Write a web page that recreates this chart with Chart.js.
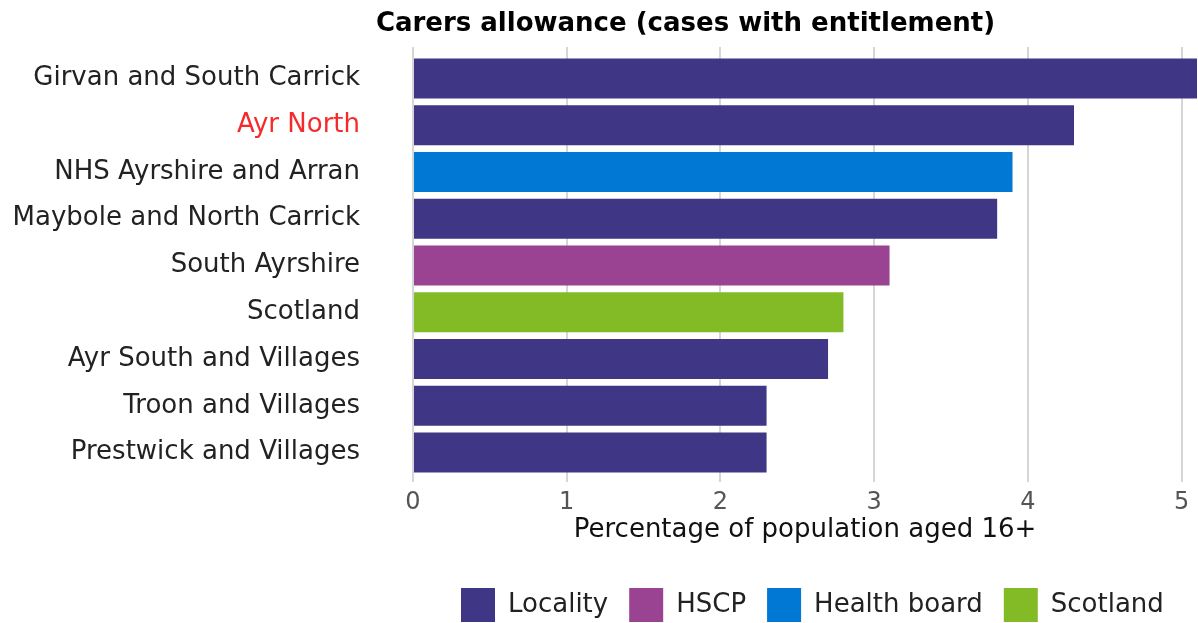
<!DOCTYPE html>
<html>
<head>
<meta charset="utf-8">
<script src="https://cdn.jsdelivr.net/npm/chart.js@4/dist/chart.umd.min.js"></script>
<style>
  html, body { margin: 0; padding: 0; background: #ffffff; }
  #wrap { width: 1198px; height: 623px; position: relative; }
</style>
</head>
<body>
<div id="wrap"><canvas id="c" width="1198" height="623"></canvas></div>
<script>
// ---- Data ----
const chartTitle = 'Carers allowance (cases with entitlement)';
const axisTitle = 'Percentage of population aged 16+';
const categories = [
  'Girvan and South Carrick',
  'Ayr North',
  'NHS Ayrshire and Arran',
  'Maybole and North Carrick',
  'South Ayrshire',
  'Scotland',
  'Ayr South and Villages',
  'Troon and Villages',
  'Prestwick and Villages'
];
const values = [5.1, 4.3, 3.9, 3.8, 3.1, 2.8, 2.7, 2.3, 2.3];
const areaTypes = ['Locality', 'Locality', 'Health board', 'Locality', 'HSCP', 'Scotland', 'Locality', 'Locality', 'Locality'];
const legendOrder = ['Locality', 'HSCP', 'Health board', 'Scotland'];
const xTicks = [0, 1, 2, 3, 4, 5];
const highlighted = 'Ayr North';

// ---- Styles ----
const typeColors = {
  'Locality': '#3f3685',
  'HSCP': '#9b4393',
  'Health board': '#0078d4',
  'Scotland': '#83bb26'
};
Chart.defaults.font.family = "'DejaVu Sans', sans-serif";

const datasets = legendOrder.map(t => ({
  label: t,
  data: categories.map((c, i) => areaTypes[i] === t ? values[i] : null),
  backgroundColor: typeColors[t],
  borderWidth: 0,
  barPercentage: 0.855,
  categoryPercentage: 1.0,
  grouped: false
}));

const setTicks = (scale) => {
  scale.ticks = xTicks.map(v => ({ value: v }));
};

const placeBlocks = {
  id: 'placeBlocks',
  beforeLayout(chart) {
    const lg = chart.legend;
    if (lg && !lg.__patched) {
      const origFit = lg.fit;
      lg.fit = function () { origFit.call(this); this.height = 72; };
      lg.__patched = true;
    }
  },
  afterLayout(chart) {
    const t = chart.titleBlock;
    if (t) { t.left += 87; t.right += 87; }
    const lg = chart.legend;
    if (lg) {
      const h = lg.bottom - lg.top;
      lg.left = 440; lg.right = 1198;
      lg.top = 567; lg.bottom = 567 + h;
    }
  }
};

new Chart(document.getElementById('c'), {
  type: 'bar',
  data: { labels: categories, datasets },
  plugins: [placeBlocks],
  options: {
    indexAxis: 'y',
    responsive: false,
    animation: false,
    layout: { padding: { left: 0, right: 1, top: 0, bottom: 0 } },
    scales: {
      x: {
        type: 'linear',
        position: 'bottom',
        min: 0,
        max: 5.1,
        afterBuildTicks: setTicks,
        afterFit: (s) => { s.height = 75; },
        ticks: { color: '#555555', font: { size: 24 }, padding: 6 },
        grid: { color: '#d6d6d6', lineWidth: 2, tickLength: 6, drawTicks: true },
        border: { display: false },
        title: { display: true, text: axisTitle, color: '#111111', font: { size: 26 }, padding: { top: 0, bottom: 5 } }
      },
      x2: {
        type: 'linear',
        position: 'top',
        min: 0,
        max: 5.1,
        afterBuildTicks: setTicks,
        afterFit: (s) => { s.height = 8; },
        ticks: { display: false },
        grid: { color: '#d6d6d6', lineWidth: 2, tickLength: 8, drawTicks: true, drawOnChartArea: false },
        border: { display: false }
      },
      y: {
        type: 'category',
        position: 'left',
        afterFit: (s) => { s.width = 413; s.paddingTop = 0; s.paddingBottom = 0; },
        grid: { display: false, drawTicks: false },
        border: { display: false },
        ticks: {
          padding: 53,
          font: { size: 26 },
          color: (ctx) => (ctx.tick && ctx.tick.label === highlighted) ? '#f52a2a' : '#222222'
        }
      }
    },
    plugins: {
      title: {
        display: true,
        text: chartTitle,
        color: '#000000',
        font: { size: 26, weight: 'bold' },
        padding: { top: 9, bottom: 6.8 }
      },
      legend: {
        position: 'bottom',
        align: 'start',
        labels: {
          boxWidth: 34,
          boxHeight: 34,
          padding: 21,
          color: '#222222',
          font: { size: 26 }
        }
      },
      tooltip: { enabled: false }
    }
  }
});
</script>
</body>
</html>
